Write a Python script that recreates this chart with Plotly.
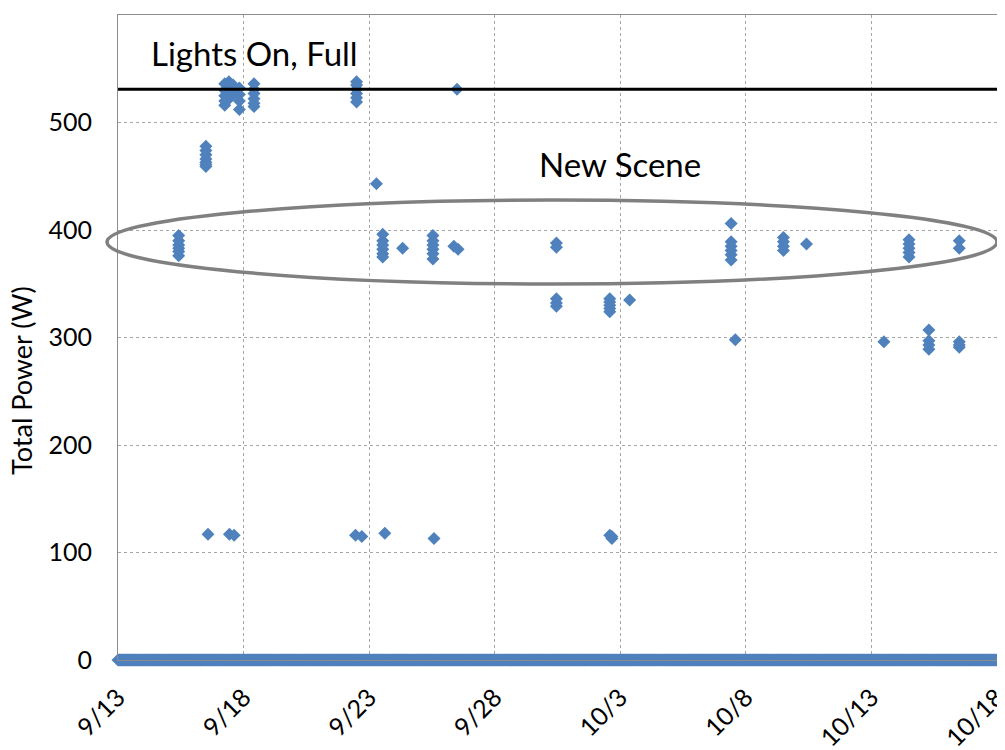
import pandas as pd
import plotly.graph_objects as go

# readings above zero (timestamp, total power in W)
times = [
    # 9/15
    "2012-09-15 10:00", "2012-09-15 10:00", "2012-09-15 10:00", "2012-09-15 10:00", "2012-09-15 10:00", "2012-09-15 10:00",
    # 9/16
    "2012-09-16 12:00", "2012-09-16 12:00", "2012-09-16 12:00", "2012-09-16 12:00", "2012-09-16 12:00", "2012-09-16 12:00", "2012-09-16 12:00",
    "2012-09-16 14:00",
    # 9/17
    "2012-09-17 06:00", "2012-09-17 06:00", "2012-09-17 06:00", "2012-09-17 06:00", "2012-09-17 06:00",
    "2012-09-17 10:00", "2012-09-17 10:00", "2012-09-17 10:00", "2012-09-17 10:00",
    "2012-09-17 14:00", "2012-09-17 14:00", "2012-09-17 14:00",
    "2012-09-17 20:00", "2012-09-17 20:00", "2012-09-17 20:00", "2012-09-17 20:00",
    "2012-09-17 10:30", "2012-09-17 15:00",
    # 9/18
    "2012-09-18 10:00", "2012-09-18 10:00", "2012-09-18 10:00", "2012-09-18 10:00", "2012-09-18 10:00", "2012-09-18 10:00",
    # 9/22
    "2012-09-22 12:00", "2012-09-22 12:00", "2012-09-22 12:00", "2012-09-22 12:00", "2012-09-22 12:00", "2012-09-22 12:00",
    "2012-09-22 11:00", "2012-09-22 17:00",
    # 9/23
    "2012-09-23 07:00",
    "2012-09-23 13:00", "2012-09-23 13:00", "2012-09-23 13:00", "2012-09-23 13:00", "2012-09-23 13:00", "2012-09-23 13:00",
    "2012-09-23 15:00",
    # 9/24
    "2012-09-24 08:00",
    # 9/25
    "2012-09-25 13:00", "2012-09-25 13:00", "2012-09-25 13:00", "2012-09-25 13:00", "2012-09-25 13:00", "2012-09-25 13:00",
    "2012-09-25 14:00",
    # 9/26
    "2012-09-26 09:00", "2012-09-26 13:00", "2012-09-26 12:00",
    # 9/30
    "2012-09-30 11:00", "2012-09-30 11:00", "2012-09-30 11:00", "2012-09-30 11:00", "2012-09-30 11:00",
    # 10/2
    "2012-10-02 14:00", "2012-10-02 14:00", "2012-10-02 14:00", "2012-10-02 14:00", "2012-10-02 14:00",
    "2012-10-02 14:00", "2012-10-02 16:00", "2012-10-02 16:00",
    # 10/3
    "2012-10-03 09:00",
    # 10/7
    "2012-10-07 10:00", "2012-10-07 10:00", "2012-10-07 10:00", "2012-10-07 10:00", "2012-10-07 10:00", "2012-10-07 10:00",
    "2012-10-07 14:00",
    # 10/9
    "2012-10-09 12:00", "2012-10-09 12:00", "2012-10-09 12:00", "2012-10-09 12:00",
    # 10/10
    "2012-10-10 10:00",
    # 10/13
    "2012-10-13 12:00",
    # 10/14
    "2012-10-14 12:00", "2012-10-14 12:00", "2012-10-14 12:00", "2012-10-14 12:00", "2012-10-14 12:00",
    # 10/15
    "2012-10-15 07:00", "2012-10-15 07:00", "2012-10-15 07:00", "2012-10-15 07:00",
    # 10/16
    "2012-10-16 12:00", "2012-10-16 12:00", "2012-10-16 12:00", "2012-10-16 12:00", "2012-10-16 12:00",
]
power = [
    395, 390, 386, 383, 380, 376,
    478, 474, 470, 466, 463, 461, 459,
    117,
    536, 530, 525, 520, 516,
    538, 533, 528, 522,
    535, 530, 526,
    532, 526, 520, 512,
    117, 116,
    536, 531, 527, 522, 518, 515,
    538, 535, 531, 527, 523, 519,
    116, 115,
    443,
    396, 390, 386, 382, 378, 375,
    118,
    383,
    395, 390, 386, 382, 378, 373,
    113,
    385, 382, 531,
    388, 384, 336, 332, 329,
    336, 333, 330, 327, 324,
    116, 113, 115,
    335,
    406, 389, 385, 381, 377, 372,
    298,
    393, 389, 385, 381,
    387,
    296,
    391, 387, 383, 379, 375,
    307, 297, 293, 289,
    390, 383, 296, 293, 291,
]

# idle readings (0 W) logged every hour across the whole period
zero_times = pd.date_range("2012-09-13 00:00", "2012-10-18 00:00", freq="h")
zero_power = [0] * len(zero_times)

full_level = 531
y_ticks = [0, 100, 200, 300, 400, 500, 600]

blue = "#4F81BD"
font = "Lato"

fig = go.Figure()
fig.add_trace(go.Scatter(
    x=list(zero_times), y=zero_power, mode="markers",
    marker=dict(symbol="diamond", size=10, color=blue),
    cliponaxis=False, showlegend=False,
))
fig.add_trace(go.Scatter(
    x=pd.to_datetime(times), y=power, mode="markers",
    marker=dict(symbol="diamond", size=10, color=blue),
    cliponaxis=False, showlegend=False,
))

# full-power reference line
fig.add_shape(type="line", xref="paper", x0=0, x1=1, yref="y", y0=full_level, y1=full_level,
              line=dict(color="black", width=3))

# ellipse around the new scene readings
fig.add_shape(type="circle", xref="paper", yref="paper",
              x0=-0.0125, x1=1.0, y0=0.583, y1=0.713,
              line=dict(color="#808080", width=3.5))

fig.add_annotation(x="2012-09-14 06:00", y=565, text="Lights On, Full", showarrow=False,
                   xanchor="left", yanchor="middle", font=dict(family=font, size=33, color="black"))
fig.add_annotation(x="2012-10-03 00:00", y=461, text="New Scene", showarrow=False,
                   xanchor="center", yanchor="middle", font=dict(family=font, size=33, color="black"))
fig.add_annotation(x=-0.109, y=0.433, xref="paper", yref="paper", text="Total Power (W)",
                   textangle=-90, showarrow=False, xanchor="center", yanchor="middle",
                   font=dict(family=font, size=27, color="black"))

grid = dict(showgrid=True, gridcolor="#a6a6a6", gridwidth=1, griddash="dot",
            showline=True, linecolor="#8c8c8c", linewidth=1, mirror=True, zeroline=False,
            automargin=False)

# the page adds an 8px body margin, so the figure is sized to fit inside the window
fig.update_layout(
    width=997, height=742,
    margin=dict(l=110, r=8, t=7, b=90),
    plot_bgcolor="white", paper_bgcolor="white",
    font=dict(family=font, size=25, color="black"),
    xaxis=dict(
        type="date", range=["2012-09-13", "2012-10-18 00:05"],
        tick0="2012-09-13", dtick=5 * 86400000, tickformat="%-m/%-d",
        tickangle=-45, ticklabelstandoff=12, ticklabeloverflow="allow", **grid,
    ),
    yaxis=dict(
        range=[0, 600], tickvals=y_ticks, ticklabelstandoff=20, **grid,
    ),
)

fig.write_html("out.html")
